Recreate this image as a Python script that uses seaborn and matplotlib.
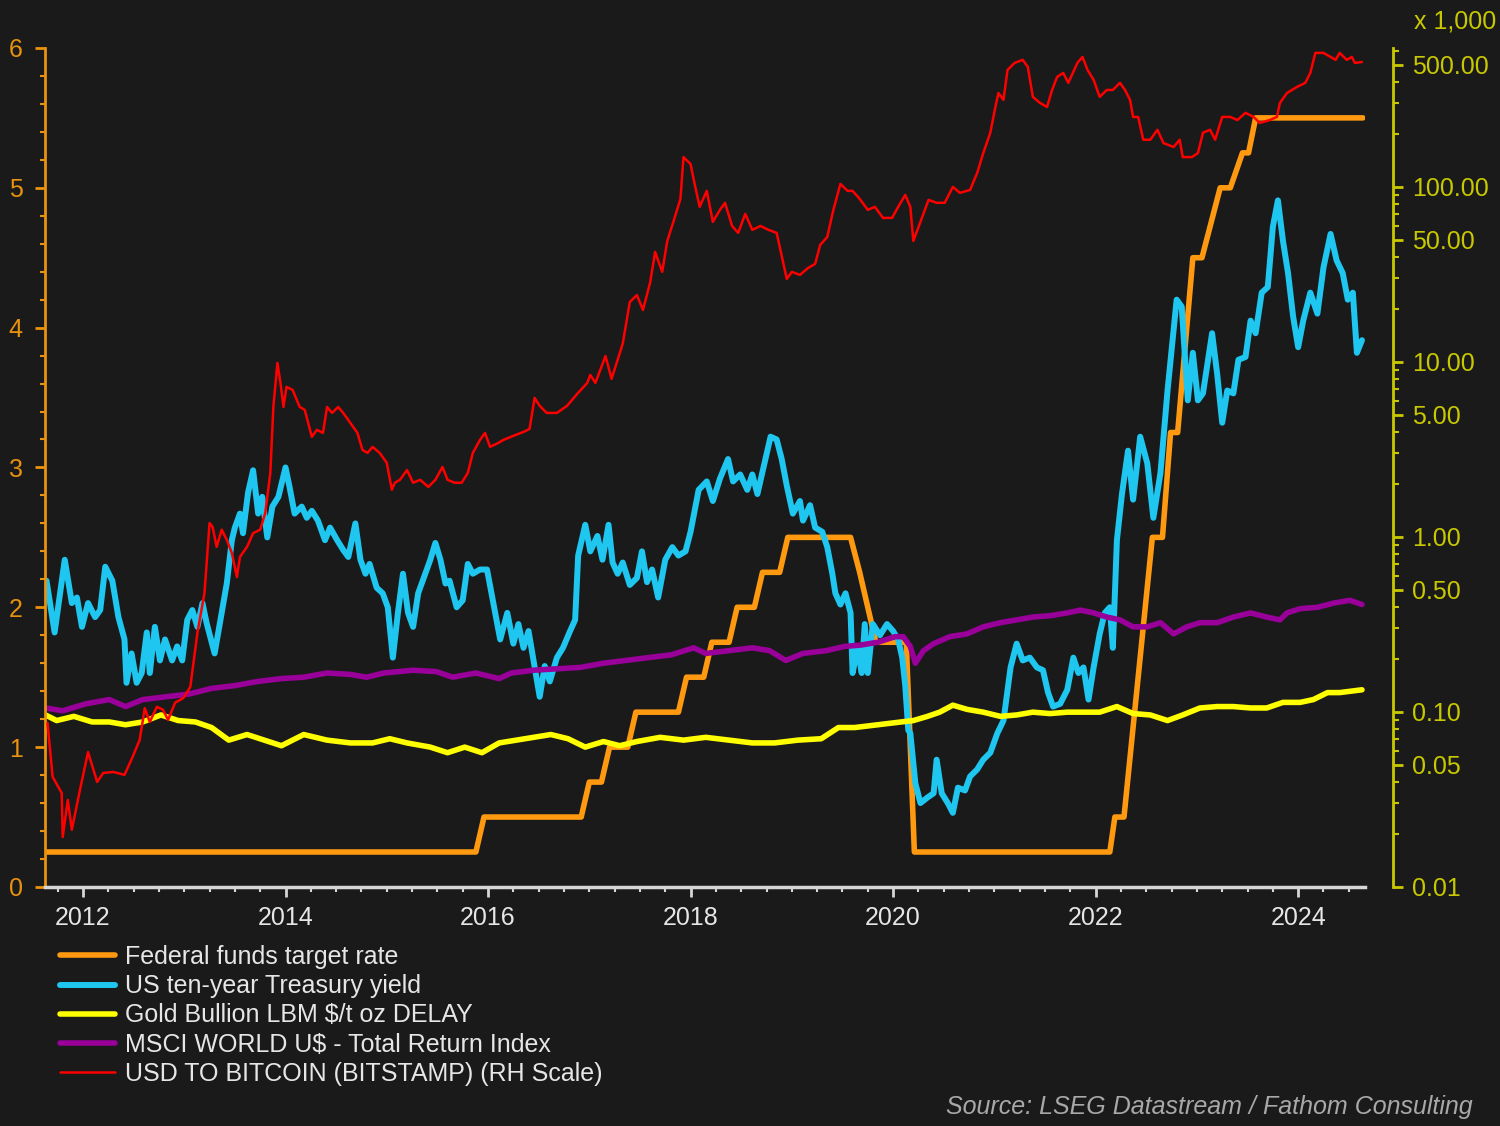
import matplotlib
matplotlib.use("Agg")
import matplotlib.pyplot as plt
import matplotlib.ticker as mticker
import seaborn as sns

# Federal funds target rate (vertices of the step line)
fed_year = [2011.63, 2015.88, 2015.96, 2016.92, 2017.00, 2017.12, 2017.20, 2017.38, 2017.46,
            2017.88, 2017.96, 2018.13, 2018.21, 2018.38, 2018.46, 2018.63, 2018.71, 2018.88,
            2018.96, 2019.58, 2019.67, 2019.75, 2019.83, 2020.13, 2020.21, 2022.14, 2022.19,
            2022.28, 2022.56, 2022.66, 2022.74, 2022.81, 2022.96, 2023.05, 2023.23, 2023.33,
            2023.45, 2023.51, 2023.58, 2024.64]
fed_rate = [0.25, 0.25, 0.50, 0.50, 0.75, 0.75, 1.00, 1.00, 1.25,
            1.25, 1.50, 1.50, 1.75, 1.75, 2.00, 2.00, 2.25, 2.25,
            2.50, 2.50, 2.25, 2.00, 1.75, 1.75, 0.25, 0.25, 0.50,
            0.50, 2.50, 2.50, 3.25, 3.25, 4.50, 4.50, 5.00, 5.00,
            5.25, 5.25, 5.50, 5.50]

# US ten-year Treasury yield
ust_year = [2011.64, 2011.72, 2011.82, 2011.89, 2011.94, 2011.99, 2012.05, 2012.12, 2012.17, 2012.22,
            2012.29, 2012.35, 2012.41, 2012.43, 2012.48, 2012.53, 2012.58, 2012.63, 2012.66, 2012.71,
            2012.76, 2012.81, 2012.88, 2012.93, 2012.98, 2013.03, 2013.08, 2013.13, 2013.18, 2013.22,
            2013.30, 2013.37, 2013.42, 2013.47, 2013.50, 2013.55, 2013.58, 2013.63, 2013.68, 2013.73,
            2013.77, 2013.82, 2013.87, 2013.93, 2014.00, 2014.04, 2014.09, 2014.16, 2014.21, 2014.26,
            2014.32, 2014.39, 2014.44, 2014.51, 2014.57, 2014.62, 2014.69, 2014.74, 2014.79, 2014.83,
            2014.90, 2014.96, 2015.01, 2015.06, 2015.11, 2015.16, 2015.21, 2015.26, 2015.31, 2015.38,
            2015.43, 2015.48, 2015.53, 2015.58, 2015.62, 2015.69, 2015.75, 2015.80, 2015.85, 2015.92,
            2015.99, 2016.05, 2016.12, 2016.19, 2016.25, 2016.30, 2016.35, 2016.40, 2016.44, 2016.51,
            2016.56, 2016.61, 2016.68, 2016.74, 2016.81, 2016.86, 2016.89, 2016.96, 2017.01, 2017.08,
            2017.13, 2017.19, 2017.23, 2017.28, 2017.33, 2017.40, 2017.47, 2017.52, 2017.57, 2017.62,
            2017.68, 2017.75, 2017.82, 2017.88, 2017.95, 2018.00, 2018.08, 2018.16, 2018.22, 2018.29,
            2018.37, 2018.42, 2018.49, 2018.56, 2018.61, 2018.66, 2018.72, 2018.79, 2018.85, 2018.90,
            2018.95, 2019.01, 2019.08, 2019.11, 2019.18, 2019.23, 2019.30, 2019.35, 2019.40, 2019.43,
            2019.48, 2019.53, 2019.58, 2019.60, 2019.65, 2019.69, 2019.72, 2019.75, 2019.80, 2019.87,
            2019.94, 2020.00, 2020.05, 2020.09, 2020.12, 2020.15, 2020.17, 2020.22, 2020.27, 2020.34,
            2020.40, 2020.43, 2020.48, 2020.54, 2020.59, 2020.64, 2020.71, 2020.76, 2020.83, 2020.89,
            2020.96, 2021.03, 2021.09, 2021.16, 2021.22, 2021.28, 2021.35, 2021.42, 2021.48, 2021.53,
            2021.58, 2021.65, 2021.72, 2021.78, 2021.83, 2021.88, 2021.93, 2021.98, 2022.04, 2022.09,
            2022.14, 2022.17, 2022.21, 2022.26, 2022.32, 2022.37, 2022.44, 2022.51, 2022.57, 2022.64,
            2022.71, 2022.80, 2022.85, 2022.88, 2022.91, 2022.96, 2023.01, 2023.06, 2023.15, 2023.20,
            2023.25, 2023.30, 2023.36, 2023.41, 2023.48, 2023.53, 2023.58, 2023.64, 2023.70, 2023.75,
            2023.80, 2023.85, 2023.90, 2023.95, 2024.00, 2024.05, 2024.12, 2024.19, 2024.25, 2024.32,
            2024.38, 2024.44, 2024.49, 2024.54, 2024.58, 2024.63]
ust_yield = [2.19, 1.82, 2.34, 2.03, 2.07, 1.86, 2.03, 1.93, 1.98, 2.29,
             2.19, 1.93, 1.77, 1.46, 1.67, 1.46, 1.53, 1.82, 1.53, 1.86,
             1.62, 1.77, 1.62, 1.72, 1.62, 1.91, 1.98, 1.86, 2.03, 1.89,
             1.67, 1.96, 2.17, 2.48, 2.57, 2.67, 2.53, 2.82, 2.98, 2.67,
             2.79, 2.50, 2.72, 2.79, 3.00, 2.86, 2.67, 2.72, 2.64, 2.69,
             2.62, 2.48, 2.57, 2.48, 2.41, 2.36, 2.60, 2.34, 2.24, 2.31,
             2.14, 2.10, 2.00, 1.64, 1.96, 2.24, 1.96, 1.86, 2.10, 2.24,
             2.34, 2.46, 2.34, 2.17, 2.19, 2.00, 2.05, 2.31, 2.24, 2.27,
             2.27, 2.04, 1.77, 1.96, 1.74, 1.88, 1.71, 1.83, 1.66, 1.36,
             1.58, 1.47, 1.64, 1.71, 1.83, 1.91, 2.37, 2.59, 2.40, 2.51,
             2.34, 2.59, 2.32, 2.24, 2.32, 2.16, 2.21, 2.40, 2.18, 2.27,
             2.07, 2.34, 2.43, 2.37, 2.40, 2.54, 2.84, 2.90, 2.76, 2.92,
             3.06, 2.90, 2.95, 2.84, 2.95, 2.81, 3.00, 3.22, 3.20, 3.06,
             2.87, 2.67, 2.76, 2.62, 2.73, 2.57, 2.54, 2.43, 2.24, 2.10,
             2.02, 2.10, 1.96, 1.53, 1.71, 1.53, 1.88, 1.53, 1.88, 1.80,
             1.88, 1.83, 1.77, 1.64, 1.44, 1.12, 1.10, 0.74, 0.60, 0.64,
             0.67, 0.91, 0.67, 0.60, 0.53, 0.71, 0.69, 0.79, 0.84, 0.91,
             0.96, 1.10, 1.19, 1.57, 1.74, 1.62, 1.64, 1.57, 1.55, 1.39,
             1.29, 1.31, 1.41, 1.64, 1.53, 1.57, 1.34, 1.57, 1.81, 1.96,
             2.00, 1.71, 2.48, 2.81, 3.12, 2.77, 3.22, 3.03, 2.64, 2.96,
             3.55, 4.20, 4.15, 3.82, 3.48, 3.82, 3.48, 3.53, 3.96, 3.67,
             3.32, 3.55, 3.53, 3.77, 3.79, 4.05, 3.96, 4.25, 4.29, 4.72,
             4.91, 4.62, 4.39, 4.08, 3.86, 4.05, 4.25, 4.10, 4.43, 4.67,
             4.48, 4.39, 4.20, 4.25, 3.82, 3.91]

# Gold Bullion LBM $/t oz DELAY (as plotted on the left scale)
gold_year = [2011.63, 2011.74, 2011.91, 2012.09, 2012.26, 2012.42, 2012.59, 2012.77, 2012.94, 2013.11,
             2013.27, 2013.44, 2013.62, 2013.79, 2013.96, 2014.18, 2014.41, 2014.64, 2014.86, 2015.03,
             2015.20, 2015.43, 2015.60, 2015.77, 2015.94, 2016.11, 2016.28, 2016.45, 2016.62, 2016.79,
             2016.96, 2017.14, 2017.30, 2017.47, 2017.70, 2017.93, 2018.15, 2018.38, 2018.61, 2018.83,
             2019.06, 2019.29, 2019.46, 2019.62, 2019.85, 2020.08, 2020.20, 2020.34, 2020.46, 2020.59,
             2020.73, 2020.89, 2021.06, 2021.22, 2021.38, 2021.55, 2021.72, 2021.88, 2022.04, 2022.21,
             2022.37, 2022.54, 2022.71, 2022.86, 2023.03, 2023.20, 2023.36, 2023.53, 2023.69, 2023.85,
             2024.02, 2024.15, 2024.29, 2024.41, 2024.63]
gold_val = [1.23, 1.19, 1.22, 1.18, 1.18, 1.16, 1.18, 1.23, 1.19, 1.18,
            1.14, 1.05, 1.09, 1.05, 1.01, 1.09, 1.05, 1.03, 1.03, 1.06,
            1.03, 1.00, 0.96, 1.00, 0.96, 1.03, 1.05, 1.07, 1.09, 1.06,
            1.00, 1.04, 1.01, 1.04, 1.07, 1.05, 1.07, 1.05, 1.03, 1.03,
            1.05, 1.06, 1.14, 1.14, 1.16, 1.18, 1.19, 1.22, 1.25, 1.30,
            1.27, 1.25, 1.22, 1.23, 1.25, 1.24, 1.25, 1.25, 1.25, 1.29,
            1.24, 1.23, 1.19, 1.23, 1.28, 1.29, 1.29, 1.28, 1.28, 1.32,
            1.32, 1.34, 1.39, 1.39, 1.41]

# MSCI WORLD U$ - Total Return Index (as plotted on the left scale)
msci_year = [2011.63, 2011.80, 2012.03, 2012.26, 2012.42, 2012.59, 2012.82, 2013.05, 2013.27, 2013.50,
             2013.73, 2013.96, 2014.18, 2014.41, 2014.64, 2014.80, 2014.97, 2015.26, 2015.49, 2015.65,
             2015.88, 2016.11, 2016.23, 2016.45, 2016.68, 2016.91, 2017.14, 2017.36, 2017.58, 2017.81,
             2018.03, 2018.15, 2018.38, 2018.61, 2018.78, 2018.94, 2019.11, 2019.34, 2019.52, 2019.68,
             2019.85, 2020.02, 2020.10, 2020.17, 2020.22, 2020.30, 2020.40, 2020.56, 2020.73, 2020.89,
             2021.06, 2021.22, 2021.38, 2021.55, 2021.72, 2021.85, 2021.98, 2022.11, 2022.24, 2022.37,
             2022.51, 2022.64, 2022.77, 2022.90, 2023.03, 2023.20, 2023.36, 2023.53, 2023.69, 2023.82,
             2023.89, 2024.02, 2024.19, 2024.35, 2024.51, 2024.63]
msci_val = [1.28, 1.26, 1.31, 1.34, 1.29, 1.34, 1.36, 1.38, 1.42, 1.44,
            1.47, 1.49, 1.50, 1.53, 1.52, 1.50, 1.53, 1.55, 1.54, 1.50,
            1.53, 1.49, 1.53, 1.55, 1.56, 1.57, 1.60, 1.62, 1.64, 1.66,
            1.71, 1.67, 1.69, 1.71, 1.69, 1.62, 1.67, 1.69, 1.72, 1.73,
            1.75, 1.79, 1.79, 1.72, 1.60, 1.69, 1.74, 1.79, 1.81, 1.86,
            1.89, 1.91, 1.93, 1.94, 1.96, 1.98, 1.96, 1.93, 1.91, 1.86,
            1.86, 1.89, 1.81, 1.86, 1.89, 1.89, 1.93, 1.96, 1.93, 1.91,
            1.96, 1.99, 2.00, 2.03, 2.05, 2.02]

# USD TO BITCOIN (BITSTAMP), right hand log scale (x 1,000)
btc_year = [2011.65, 2011.70, 2011.79, 2011.80, 2011.85, 2011.89, 2011.97, 2012.05, 2012.14, 2012.20,
            2012.30, 2012.41, 2012.49, 2012.56, 2012.61, 2012.66, 2012.73, 2012.79, 2012.84, 2012.91,
            2012.99, 2013.06, 2013.13, 2013.20, 2013.25, 2013.28, 2013.32, 2013.37, 2013.42, 2013.47,
            2013.52, 2013.55, 2013.62, 2013.68, 2013.75, 2013.80, 2013.85, 2013.88, 2013.92, 2013.95,
            2013.98, 2014.01, 2014.07, 2014.14, 2014.19, 2014.26, 2014.31, 2014.37, 2014.41, 2014.46,
            2014.52, 2014.57, 2014.64, 2014.71, 2014.76, 2014.81, 2014.86, 2014.93, 2015.00, 2015.05,
            2015.08, 2015.13, 2015.20, 2015.26, 2015.33, 2015.41, 2015.48, 2015.55, 2015.60, 2015.67,
            2015.74, 2015.80, 2015.85, 2015.92, 2015.97, 2016.02, 2016.10, 2016.15, 2016.25, 2016.35,
            2016.41, 2016.46, 2016.51, 2016.58, 2016.68, 2016.78, 2016.88, 2016.98, 2017.01, 2017.06,
            2017.16, 2017.22, 2017.27, 2017.33, 2017.40, 2017.47, 2017.53, 2017.60, 2017.65, 2017.72,
            2017.77, 2017.83, 2017.90, 2017.93, 2018.00, 2018.04, 2018.09, 2018.16, 2018.22, 2018.29,
            2018.34, 2018.41, 2018.47, 2018.54, 2018.61, 2018.69, 2018.77, 2018.85, 2018.90, 2018.95,
            2019.00, 2019.08, 2019.16, 2019.23, 2019.28, 2019.35, 2019.41, 2019.48, 2019.55, 2019.60,
            2019.67, 2019.75, 2019.82, 2019.90, 2019.99, 2020.05, 2020.12, 2020.17, 2020.20, 2020.27,
            2020.35, 2020.43, 2020.51, 2020.59, 2020.66, 2020.76, 2020.83, 2020.89, 2020.96, 2021.01,
            2021.04, 2021.09, 2021.13, 2021.20, 2021.28, 2021.33, 2021.38, 2021.45, 2021.52, 2021.57,
            2021.62, 2021.68, 2021.73, 2021.82, 2021.87, 2021.92, 2021.98, 2022.04, 2022.11, 2022.17,
            2022.24, 2022.29, 2022.34, 2022.37, 2022.42, 2022.47, 2022.54, 2022.61, 2022.67, 2022.77,
            2022.83, 2022.86, 2022.95, 2023.01, 2023.06, 2023.13, 2023.18, 2023.25, 2023.33, 2023.40,
            2023.48, 2023.56, 2023.62, 2023.72, 2023.79, 2023.82, 2023.89, 2023.99, 2024.07, 2024.12,
            2024.17, 2024.25, 2024.32, 2024.37, 2024.41, 2024.48, 2024.53, 2024.56, 2024.63]
btc_val = [0.0865, 0.0426, 0.0344, 0.0193, 0.0314, 0.0212, 0.0358, 0.059, 0.0398, 0.0448,
           0.0454, 0.0437, 0.0553, 0.0692, 0.105, 0.0877, 0.107, 0.103, 0.090, 0.113,
           0.120, 0.139, 0.283, 0.479, 1.20, 1.14, 0.877, 1.10, 0.962, 0.81,
           0.59, 0.769, 0.877, 1.05, 1.10, 1.37, 2.32, 5.53, 9.87, 7.59,
           5.53, 7.20, 6.92, 5.53, 5.32, 3.73, 4.09, 3.93, 5.53, 5.11,
           5.53, 5.11, 4.48, 3.93, 3.14, 3.02, 3.27, 3.02, 2.65, 1.86,
           2.04, 2.12, 2.41, 2.04, 2.12, 1.93, 2.12, 2.51, 2.12, 2.04,
           2.04, 2.32, 3.02, 3.58, 3.93, 3.27, 3.44, 3.58, 3.78, 3.98,
           4.14, 6.23, 5.61, 5.11, 5.11, 5.61, 6.56, 7.59, 8.43, 7.59,
           10.8, 8.0, 9.87, 12.7, 22.0, 24.1, 19.8, 28.3, 42.5, 32.7,
           49.1, 63.1, 85.4, 148, 135, 104, 76.9, 94.9, 63.1, 73.9,
           81.1, 59.8, 54.6, 70.1, 56.8, 59.8, 56.8, 54.6, 40.3, 29.8,
           32.7, 31.4, 34.4, 36.3, 46.6, 51.8, 73.9, 104, 94.9, 94.9,
           85.4, 73.9, 76.9, 66.5, 66.5, 76.9, 90.0, 76.9, 49.1, 63.1,
           84.3, 81.1, 81.1, 100, 92.4, 96.1, 120, 156, 204, 286,
           344, 314, 466, 511, 532, 485, 327, 302, 286, 358,
           425, 448, 393, 511, 553, 466, 409, 327, 358, 358,
           393, 358, 314, 251, 251, 186, 186, 212, 178, 169,
           186, 148, 148, 156, 204, 212, 186, 251, 251, 241,
           265, 251, 232, 241, 251, 302, 344, 373, 393, 448,
           583, 583, 553, 532, 583, 532, 553, 511, 517]

legend_labels = ["Federal funds target rate", "US ten-year Treasury yield",
                 "Gold Bullion LBM $/t oz DELAY", "MSCI WORLD U$ - Total Return Index",
                 "USD TO BITCOIN (BITSTAMP) (RH Scale)"]

bg = "#1a1a1a"
c_fed, c_ust, c_gold, c_msci, c_btc = "#ff9a10", "#1ec6f0", "#ffff00", "#990099", "#ff0000"
c_left, c_right, c_x = "#e8920e", "#c8c800", "#d6d6d6"
fs = 18

sns.set_style("dark", rc={"axes.facecolor": bg, "figure.facecolor": bg, "axes.grid": False})
plt.rcParams["font.family"] = ["Liberation Sans", "DejaVu Sans"]

fig = plt.figure(figsize=(15, 11.26), dpi=100)
ax = fig.add_axes([0.030, 0.2123, 0.880, 0.7451])

sns.lineplot(x=fed_year, y=fed_rate, ax=ax, color=c_fed, linewidth=4, estimator=None, legend=False)
sns.lineplot(x=ust_year, y=ust_yield, ax=ax, color=c_ust, linewidth=4.3, estimator=None, legend=False)
sns.lineplot(x=gold_year, y=gold_val, ax=ax, color=c_gold, linewidth=4, estimator=None, legend=False)
sns.lineplot(x=msci_year, y=msci_val, ax=ax, color=c_msci, linewidth=4, estimator=None, legend=False)

ax2 = ax.twinx()
ax2.set_yscale("log")
sns.lineplot(x=btc_year, y=btc_val, ax=ax2, color=c_btc, linewidth=1.8, estimator=None, legend=False)

# left axis
ax.set_xlim(2011.625, 2024.66)
ax.set_ylim(0, 6)
ax.yaxis.set_major_locator(mticker.MultipleLocator(1))
ax.yaxis.set_minor_locator(mticker.MultipleLocator(0.2))
ax.xaxis.set_major_locator(mticker.MultipleLocator(2))
ax.xaxis.set_minor_locator(mticker.MultipleLocator(0.25))
ax.xaxis.set_major_formatter(mticker.FormatStrFormatter("%d"))
ax.tick_params(axis="y", which="major", left=True, colors=c_left, length=7, width=2,
               pad=9, labelsize=fs)
ax.tick_params(axis="y", which="minor", left=True, colors=c_left, length=3.5, width=1.5)
ax.tick_params(axis="x", which="major", bottom=True, colors=c_x, length=7, width=2,
               pad=7, labelsize=fs, labelcolor="#e6e6e6")
ax.tick_params(axis="x", which="minor", bottom=True, colors=c_x, length=3.5, width=1.5)
for s in ["top", "right"]:
    ax.spines[s].set_visible(False)
ax.spines["left"].set_color(c_left)
ax.spines["left"].set_linewidth(2)
ax.spines["bottom"].set_color(c_x)
ax.spines["bottom"].set_linewidth(2.5)
ax.set_xlabel("")
ax.set_ylabel("")

# right axis
ax2.set_ylim(0.01, 622)
ax2.yaxis.set_major_locator(mticker.FixedLocator([0.01, 0.05, 0.1, 0.5, 1, 5, 10, 50, 100, 500]))
ax2.yaxis.set_major_formatter(mticker.FormatStrFormatter("%.2f"))
ax2.yaxis.set_minor_locator(mticker.LogLocator(base=10, subs=(2, 3, 4, 6, 7, 8, 9), numticks=50))
ax2.yaxis.set_minor_formatter(mticker.NullFormatter())
ax2.tick_params(axis="y", which="major", right=True, colors=c_right, length=7, width=2,
                pad=7, labelsize=fs)
ax2.tick_params(axis="y", which="minor", right=True, colors=c_right, length=4, width=1.5)
for s in ["top", "left", "bottom"]:
    ax2.spines[s].set_visible(False)
ax2.spines["right"].set_position(("outward", 20))
ax2.spines["right"].set_color(c_right)
ax2.spines["right"].set_linewidth(2)
ax2.set_ylabel("")

fig.text(1455 / 1500, 1 - 22 / 1126, "x 1,000", ha="center", va="center", color=c_right, fontsize=fs)

handles = ax.get_lines()[:4] + ax2.get_lines()[:1]
fig.legend(handles, legend_labels, loc="upper left", bbox_to_anchor=(60 / 1500, 1 - 945 / 1126),
           frameon=False, fontsize=fs, labelcolor="#e6e6e6", handlelength=2.2,
           handletextpad=0.4, labelspacing=0.21, borderaxespad=0, borderpad=0)

fig.text(1473 / 1500, 1 - 1107 / 1126, "Source: LSEG Datastream / Fathom Consulting",
         ha="right", va="center", style="italic", color="#a8a8a8", fontsize=fs)

fig.savefig("out.png", dpi=100, facecolor=bg)
